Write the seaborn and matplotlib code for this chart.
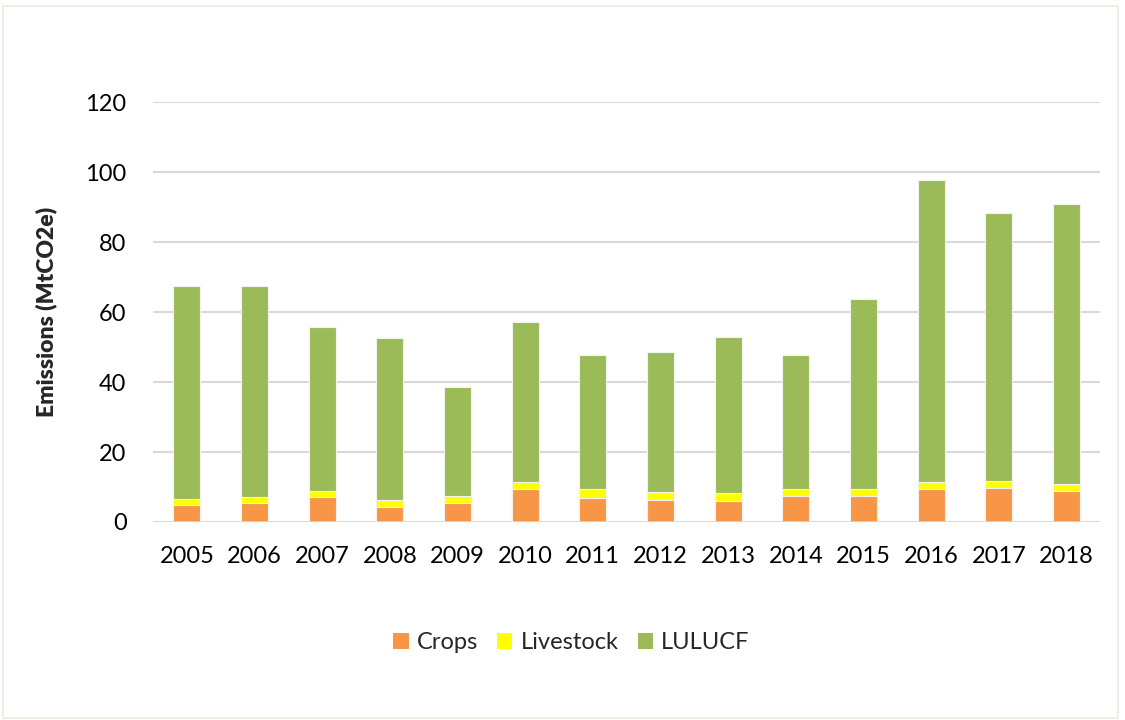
import numpy as np
import pandas as pd
import matplotlib
matplotlib.use("Agg")
import matplotlib.pyplot as plt
import seaborn as sns
from matplotlib.patches import Rectangle, Patch

# 数据（从原图读取，单位 MtCO2e）
years = ["2005", "2006", "2007", "2008", "2009", "2010", "2011",
         "2012", "2013", "2014", "2015", "2016", "2017", "2018"]
crops = [4.9, 5.3, 7.1, 4.3, 5.4, 9.4, 6.9, 6.3, 6.0, 7.3, 7.4, 9.4, 9.6, 8.9]
livestock = [1.8, 1.9, 1.8, 2.0, 2.1, 2.1, 2.4, 2.2, 2.2, 2.2, 1.9, 2.1, 2.0, 2.1]
lulucf = [60.7, 60.4, 46.8, 46.4, 31.2, 45.6, 38.4, 40.0, 44.7, 38.3, 54.5, 86.3, 76.6, 79.8]

COLORS = {"Crops": "#F79646", "Livestock": "#FFFF00", "LULUCF": "#9BBB59"}

df = pd.DataFrame(dict(year=years, Crops=crops, Livestock=livestock, LULUCF=lulucf))
# 堆叠：先画累计总和，再依次覆盖
df["c_crops"] = df["Crops"]
df["c_live"] = df["Crops"] + df["Livestock"]
df["c_total"] = df["c_live"] + df["LULUCF"]

sns.set_theme(style="white")
plt.rcParams["font.family"] = ["Lato", "DejaVu Sans"]

fig = plt.figure(figsize=(11.25, 7.2), dpi=100)
ax = fig.add_axes([0.136, 0.275, 0.842, 0.583])

for col, name in [("c_total", "LULUCF"), ("c_live", "Livestock"), ("c_crops", "Crops")]:
    sns.barplot(data=df, x="year", y=col, color=COLORS[name], saturation=1,
                width=0.4, edgecolor="#F2F2F2", linewidth=0.8, ax=ax, zorder=3)

ax.set_ylim(0, 120)
ax.set_xlim(-0.5, len(years) - 0.5)
ax.set_yticks(np.arange(0, 121, 20))
ax.yaxis.grid(True, color="#D9D9D9", linewidth=1.5, zorder=0)
ax.set_axisbelow(True)
for s in ax.spines.values():
    s.set_visible(False)
ax.axhline(0, color="#D9D9D9", linewidth=1.8, zorder=4)
ax.tick_params(axis="both", length=0, labelsize=17, colors="black")
ax.tick_params(axis="x", pad=17)
ax.tick_params(axis="y", pad=19)
ax.set_xlabel("")
ax.set_ylabel("Emissions (MtCO2e)", fontsize=16.5, fontweight="heavy", labelpad=20)

handles = [Patch(facecolor=COLORS[k], edgecolor="none") for k in ["Crops", "Livestock", "LULUCF"]]
fig.legend(handles, ["Crops", "Livestock", "LULUCF"], loc="center", bbox_to_anchor=(0.508, 0.107),
           ncol=3, frameon=False, fontsize=17, handlelength=0.65, handleheight=0.65,
           handletextpad=0.35, columnspacing=0.8)

# 外框
fig.patches.append(Rectangle((0.003, 0.003), 0.991, 0.988, transform=fig.transFigure,
                             fill=False, edgecolor="#EEEBDD", linewidth=1.2))

fig.savefig("out.png", dpi=100)
